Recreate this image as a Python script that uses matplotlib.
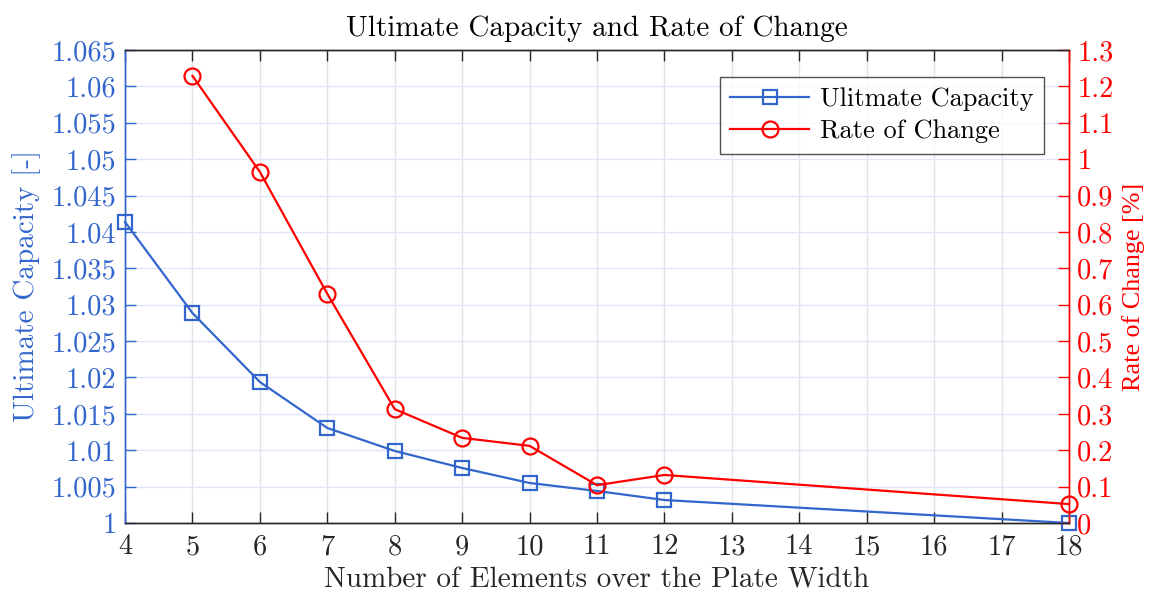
import matplotlib
matplotlib.use("Agg")
import matplotlib.pyplot as plt
from matplotlib.ticker import FuncFormatter, MultipleLocator

plt.rcParams['font.family'] = ['cmr10', 'DejaVu Serif']
plt.rcParams['axes.unicode_minus'] = False

elements = [4, 5, 6, 7, 8, 9, 10, 11, 12, 18]
capacity = [1.04137, 1.02886, 1.01938, 1.01306, 1.00990, 1.00756, 1.00550, 1.00440, 1.00316, 1.00000]
rate_x = [5, 6, 7, 8, 9, 10, 11, 12, 18]
rate_change = [1.229, 0.965, 0.630, 0.313, 0.234, 0.212, 0.104, 0.132, 0.052]

blue = '#3366cc'
red = '#ff0000'
dark = '#262626'

fig = plt.figure(figsize=(11.5, 5.94), dpi=100)
ax = fig.add_axes([125/1150, 1-523/594, (1069-125)/1150, (523-50)/594])
ax2 = ax.twinx()

fmt = FuncFormatter(lambda v, p: '%g' % round(v, 6))

l1, = ax.plot(elements, capacity, '-s', color=blue, lw=1.6, ms=9.5, mfc='none', mew=1.6,
              label='Ulitmate Capacity', zorder=3, clip_on=False)
l2, = ax2.plot(rate_x, rate_change, '-o', color=red, lw=1.6, ms=11.5, mfc='none', mew=1.6,
               label='Rate of Change', zorder=3, clip_on=False)

ax.set_xlim(4, 18)
ax.set_ylim(1.0, 1.065)
ax2.set_ylim(0, 1.3)
ax.xaxis.set_major_locator(MultipleLocator(1))
ax.yaxis.set_major_locator(MultipleLocator(0.005))
ax2.yaxis.set_major_locator(MultipleLocator(0.1))
ax.yaxis.set_major_formatter(fmt)
ax2.yaxis.set_major_formatter(fmt)
ax.xaxis.set_major_formatter(fmt)

# grid: vertical lines neutral, horizontal lines tinted by the left axis colour
ax.grid(True, axis='x', color='#e3e3e3', lw=1.0)
ax.grid(True, axis='y', color='#dfe6f5', lw=1.0)
ax.set_axisbelow(True)

ax.tick_params(axis='x', direction='in', top=True, length=8, width=1.0, colors=dark,
               labelsize=20.5, pad=8)
ax.tick_params(axis='y', direction='in', length=8, width=1.0, colors=blue, labelsize=20.5, pad=6)
ax2.tick_params(axis='y', direction='in', length=8, width=1.0, colors=red, labelsize=20.5, pad=6)

for a in (ax, ax2):
    a.spines['top'].set_color(dark)
    a.spines['bottom'].set_color(dark)
    a.spines['left'].set_color(blue)
    a.spines['right'].set_color(red)
    for s in a.spines.values():
        s.set_linewidth(1.0)

ax.set_xlabel('Number of Elements over the Plate Width', fontsize=21, color=dark, labelpad=5)
ax.set_ylabel('Ultimate Capacity [-]', fontsize=21, color=blue, labelpad=8)
ax2.set_ylabel('Rate of Change [%]', fontsize=18.8, color=red, family='Liberation Serif', labelpad=6)
ax.set_title('Ultimate Capacity and Rate of Change', fontsize=21, color='black', pad=10)

leg = ax2.legend(handles=[l1, l2], loc='upper right', bbox_to_anchor=(0.9735, 0.943),
                 fontsize=19, frameon=True, fancybox=False, edgecolor=dark,
                 handlelength=3.0, borderpad=0.4, labelspacing=0.32, handletextpad=0.4,
                 borderaxespad=0)
leg.get_frame().set_linewidth(1.0)

fig.savefig('out.png', dpi=100)
